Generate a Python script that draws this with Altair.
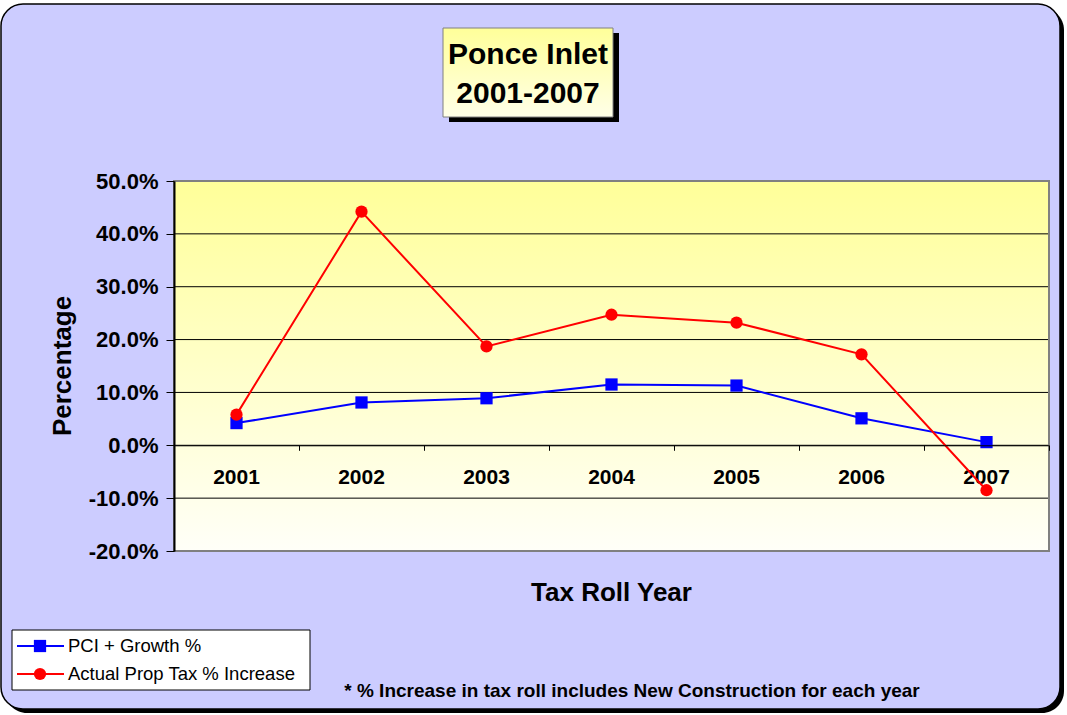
import altair as alt
import pandas as pd

# ---------------- data ----------------
years = ["2001", "2002", "2003", "2004", "2005", "2006", "2007"]
pci_growth = [4.2, 8.1, 8.9, 11.5, 11.3, 5.1, 0.6]            # % (blue, squares)
actual_increase = [5.8, 44.2, 18.7, 24.7, 23.2, 17.2, -8.5]    # % (red, circles)
series_names = ["PCI + Growth %", "Actual Prop Tax % Increase"]
series_colors = ["#0000FF", "#FF0000"]
y_ticks = [-0.2, -0.1, 0.0, 0.1, 0.2, 0.3, 0.4, 0.5]
grid_values = [-0.1, 0.0, 0.1, 0.2, 0.3, 0.4]
title_lines = ["Ponce Inlet", "2001-2007"]
x_title = "Tax Roll Year"
y_title = "Percentage"
footnote = "* % Increase in tax roll includes New Construction for each year"

# ---------------- layout ----------------
W, H = 875, 370
PAD_L, PAD_T = 174, 181
Y_MIN, Y_MAX = -0.2, 0.5
FONT = "Liberation Sans"
zero_offset = -H * (0 - Y_MIN) / (Y_MAX - Y_MIN)

blue = pd.DataFrame({"year": years, "value": [v / 100 for v in pci_growth]})
red = pd.DataFrame({"year": years, "value": [v / 100 for v in actual_increase]})
grid = pd.DataFrame({"value": grid_values})
year_df = pd.DataFrame({"year": years})

x_enc = alt.X(
    "year:O",
    scale=alt.Scale(type="band", paddingInner=0, paddingOuter=0),
    axis=alt.Axis(
        title=None, orient="bottom", offset=zero_offset, zindex=1,
        domainColor="#000000", domainWidth=1, tickColor="#000000", tickWidth=1,
        tickSize=5, tickBand="extent", labels=False,
    ),
)
y_scale = alt.Scale(domain=[Y_MIN, Y_MAX], nice=False, zero=False)
y_enc = alt.Y(
    "value:Q",
    scale=y_scale,
    axis=alt.Axis(
        title=None, values=y_ticks, grid=False, zindex=1,
        labelExpr="(datum.value < 0 ? '-' : '') + format(abs(datum.value), '.1%')",
        domainColor="#000000", domainWidth=2, tickColor="#000000", tickWidth=1,
        tickSize=8, labelPadding=8,
        labelFont=FONT, labelFontSize=22, labelFontWeight="bold", labelColor="#000000",
    ),
)


def one():
    return alt.Chart(alt.Data(values=[{}]))


# background panel
panel_shadow = one().mark_rect(fill="#000000", cornerRadius=22).encode(
    x=alt.value(-169), x2=alt.value(890), y=alt.value(-173), y2=alt.value(532))
panel = one().mark_rect(fill="#CCCCFF", stroke="#000000", strokeWidth=1.5, cornerRadius=22).encode(
    x=alt.value(-173), x2=alt.value(886), y=alt.value(-177), y2=alt.value(528))

# title box
title_shadow = one().mark_rect(fill="#000000").encode(
    x=alt.value(275), x2=alt.value(445), y=alt.value(-148), y2=alt.value(-59))
title_box = one().mark_rect(
    fill=alt.Gradient(gradient="linear",
                      stops=[alt.GradientStop(offset=0, color="#FFFF99"),
                             alt.GradientStop(offset=1, color="#FFFFE8")],
                      x1=0, x2=0, y1=0, y2=1),
    stroke="#808080", strokeWidth=1,
).encode(x=alt.value(269), x2=alt.value(439), y=alt.value(-153), y2=alt.value(-64))
title1 = one().mark_text(text=title_lines[0], font=FONT, fontSize=30, fontWeight="bold",
                         color="#000000", align="center", baseline="alphabetic").encode(
    x=alt.value(354), y=alt.value(-117))
title2 = one().mark_text(text=title_lines[1], font=FONT, fontSize=30, fontWeight="bold",
                         color="#000000", align="center", baseline="alphabetic").encode(
    x=alt.value(354), y=alt.value(-78))

# plot area background
plot_bg = one().mark_rect(
    fill=alt.Gradient(gradient="linear",
                      stops=[alt.GradientStop(offset=0, color="#FFFF99"),
                             alt.GradientStop(offset=1, color="#FFFFF8")],
                      x1=0, x2=0, y1=0, y2=1),
).encode(x=alt.value(0), x2=alt.value(W), y=alt.value(0), y2=alt.value(H))

gridlines = alt.Chart(grid).mark_rule(color="#000000", strokeWidth=1).encode(
    y=y_enc, x=alt.value(0), x2=alt.value(W))

plot_border = one().mark_rect(fill=None, stroke="#808080", strokeWidth=2).encode(
    x=alt.value(0), x2=alt.value(W), y=alt.value(0), y2=alt.value(H))

# category labels sitting under the zero line (drawn below the data marks)
year_labels = alt.Chart(year_df).mark_text(
    font=FONT, fontSize=21, fontWeight="bold", color="#000000",
    align="center", baseline="top", dy=22,
).encode(x=x_enc, y=alt.datum(0, scale=y_scale) if False else alt.datum(0), text="year:O")

blue_line = alt.Chart(blue).mark_line(color=series_colors[0], strokeWidth=2).encode(x=x_enc, y=y_enc)
blue_pts = alt.Chart(blue).mark_point(shape="square", filled=True, size=150, opacity=1,
                                      color=series_colors[0]).encode(x=x_enc, y=y_enc)
red_line = alt.Chart(red).mark_line(color=series_colors[1], strokeWidth=2).encode(x=x_enc, y=y_enc)
red_pts = alt.Chart(red).mark_point(shape="circle", filled=True, size=150, opacity=1,
                                    color=series_colors[1]).encode(x=x_enc, y=y_enc)

x_title_mark = one().mark_text(text=x_title, font=FONT, fontSize=26, fontWeight="bold",
                               color="#000000", align="center", baseline="alphabetic").encode(
    x=alt.value(W / 2), y=alt.value(420))
y_title_mark = one().mark_text(text=y_title, font=FONT, fontSize=26, fontWeight="bold",
                               color="#000000", align="center", baseline="middle", angle=270).encode(
    x=alt.value(-111), y=alt.value(H / 2))

# legend
leg_box = one().mark_rect(fill="#FFFFFF", stroke="#000000", strokeWidth=1).encode(
    x=alt.value(-162), x2=alt.value(136), y=alt.value(449), y2=alt.value(509))
leg_items = []
for i, (name, col, shp) in enumerate(zip(series_names, series_colors, ["square", "circle"])):
    yy = 465 + i * 28
    leg_items.append(one().mark_rule(color=col, strokeWidth=2).encode(
        x=alt.value(-157), x2=alt.value(-110), y=alt.value(yy)))
    leg_items.append(one().mark_point(shape=shp, filled=True, size=150, opacity=1, color=col).encode(
        x=alt.value(-134), y=alt.value(yy)))
    leg_items.append(one().mark_text(text=name, font=FONT, fontSize=18.5, color="#000000",
                                     align="left", baseline="middle").encode(
        x=alt.value(-106), y=alt.value(yy)))

foot = one().mark_text(text=footnote, font="Liberation Sans Narrow, Liberation Sans", fontSize=19,
                       fontWeight="bold", color="#000000", align="center", baseline="alphabetic").encode(
    x=alt.value(458), y=alt.value(516))

chart = alt.layer(
    panel_shadow, panel, title_shadow, title_box, title1, title2,
    plot_bg, gridlines, plot_border, year_labels,
    blue_line, blue_pts, red_line, red_pts,
    x_title_mark, y_title_mark, leg_box, *leg_items, foot,
).properties(
    width=W, height=H,
    padding={"left": PAD_L, "top": PAD_T, "right": 1067 - PAD_L - W, "bottom": 715 - PAD_T - H},
    autosize=alt.AutoSizeParams(type="none"),
    background="#FFFFFF",
).configure_view(stroke=None)

chart.save("out.html", embed_options={"renderer": "svg", "actions": False})
